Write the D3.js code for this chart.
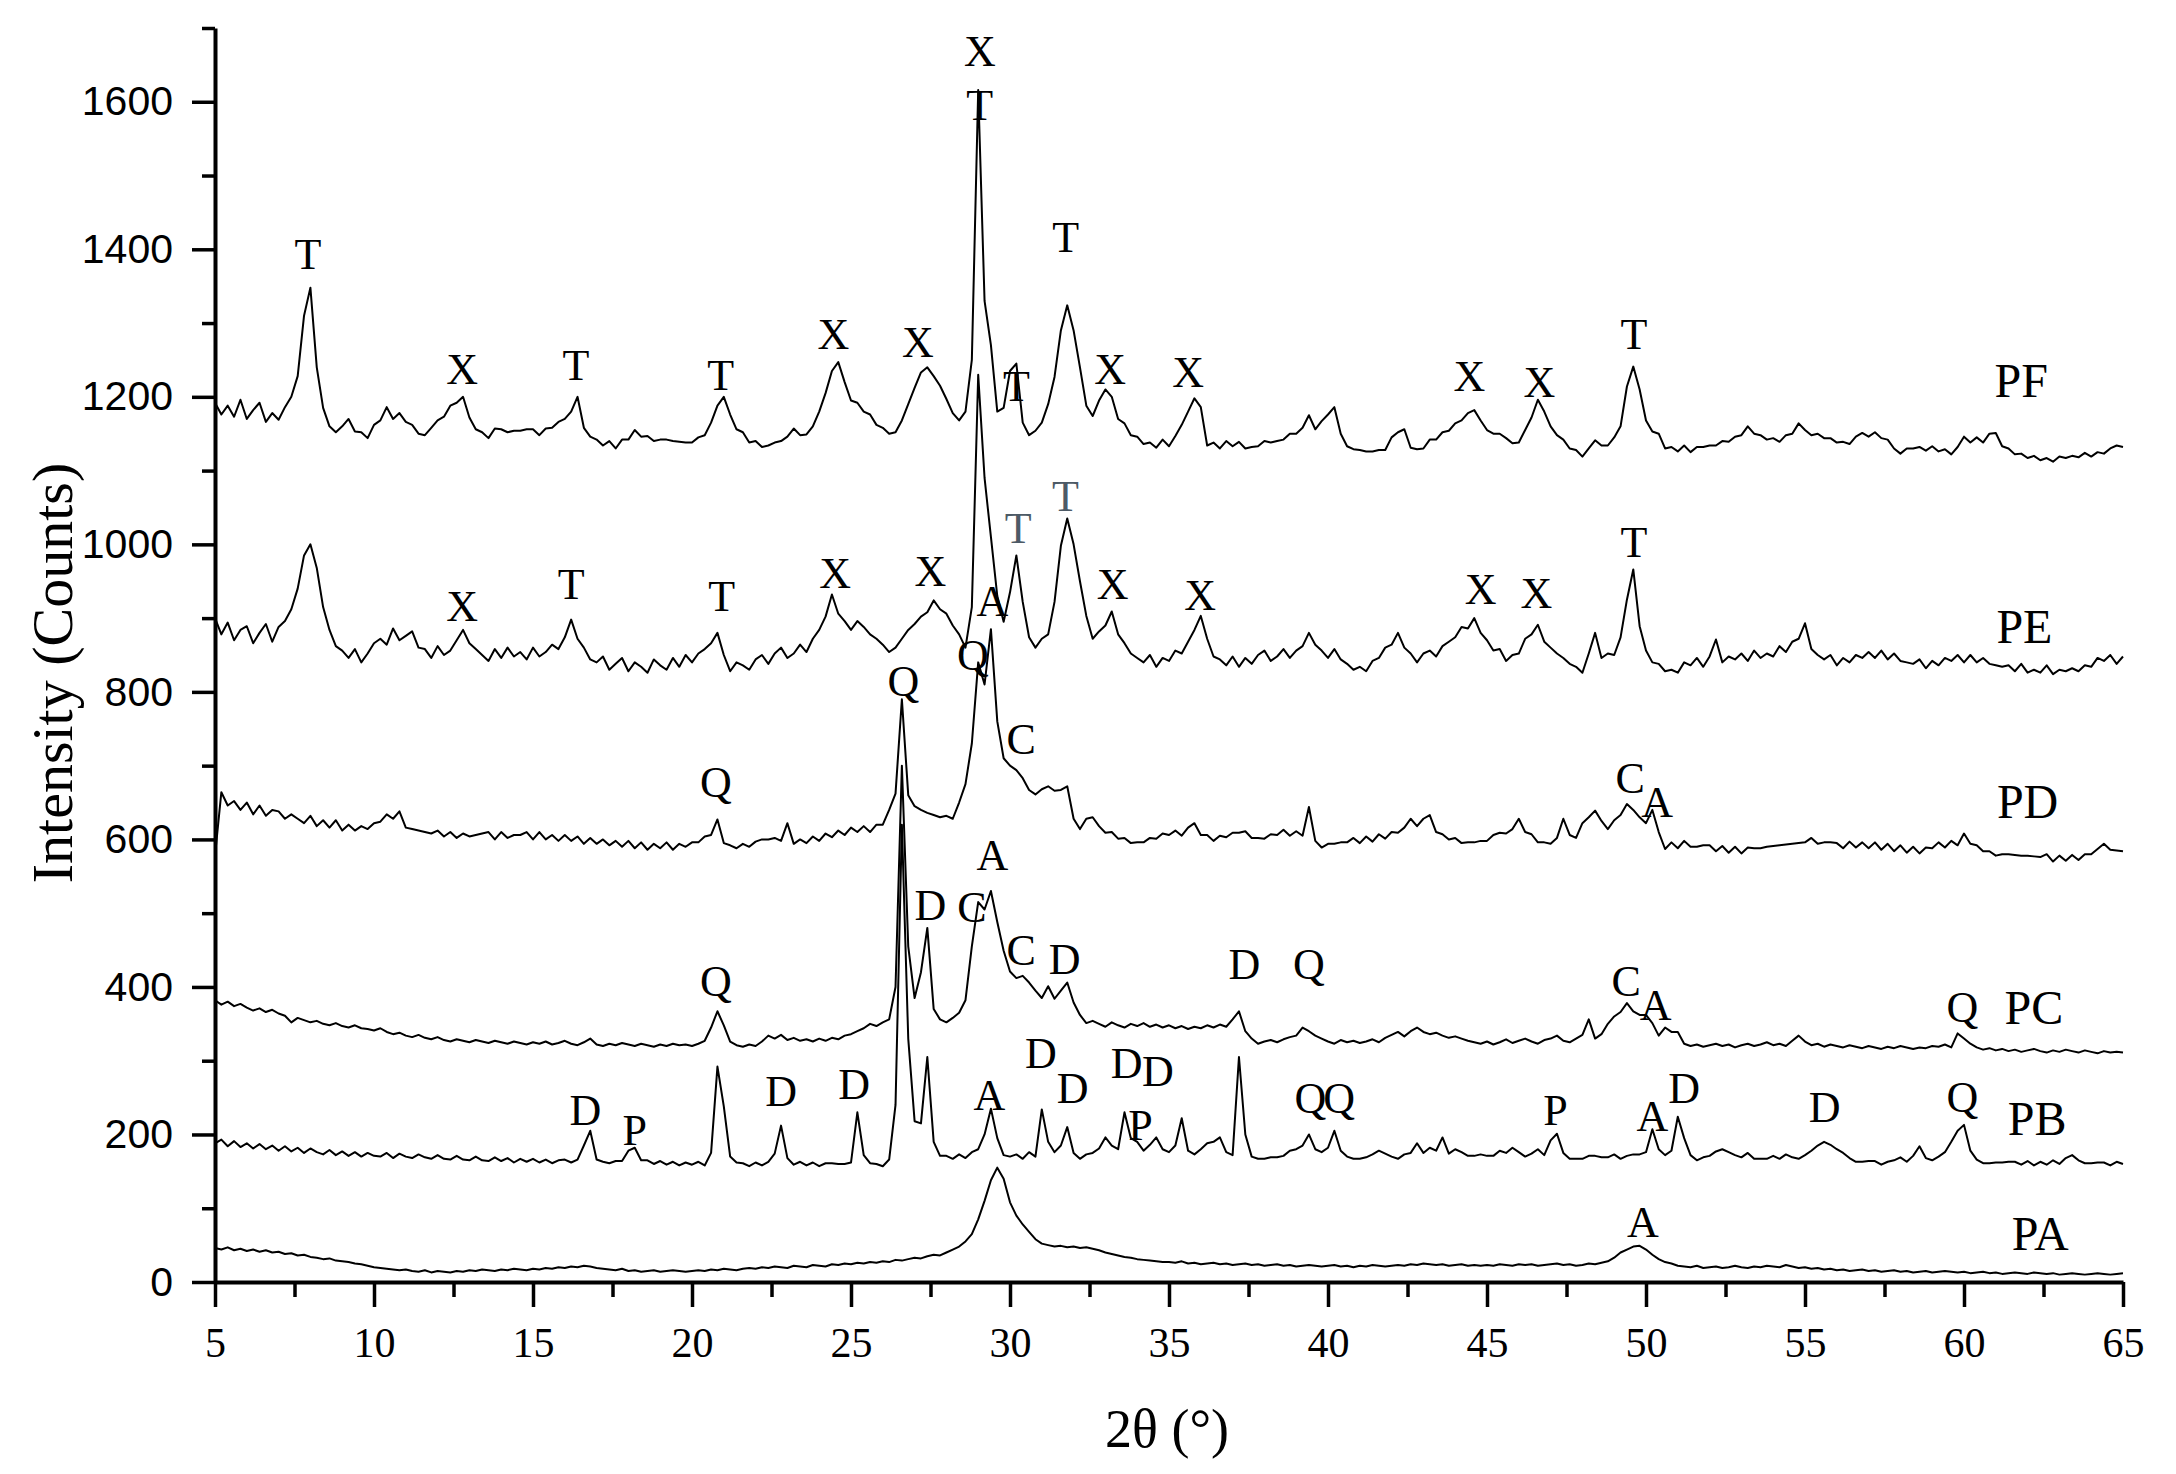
<!DOCTYPE html>
<html><head><meta charset="utf-8">
<script src="https://cdn.jsdelivr.net/npm/d3@7"></script>
<style>html,body{margin:0;padding:0;background:#fff}</style>
</head><body>
<svg id="chart" width="2176" height="1474"></svg>
<script>
// ---- data (2θ grid: each row = 5° block, 0.2° step) ----
const X_START = 5, X_STEP = 0.2, ROW_SPAN = 5;
const xMajorTicks = [5,10,15,20,25,30,35,40,45,50,55,60,65];
const xMinorTicks = [7.5,12.5,17.5,22.5,27.5,32.5,37.5,42.5,47.5,52.5,57.5,62.5];
const yMajorTicks = [0,200,400,600,800,1000,1200,1400,1600];
const yMinorTicks = [100,300,500,700,900,1100,1300,1500,1700];
const seriesNames = ["PA","PB","PC","PD","PE","PF"];

const PA = [
[46,44,47,43,45,42,44,41,43,40,41,38,39,36,37,34,33,31,32,29,28,27,25,24,22],
[20,19,18,17,16,17,15,14,16,13,15,14,13,15,14,16,15,17,16,15,17,16,18,17,16],
[18,17,19,18,20,19,21,20,22,21,19,18,17,16,18,15,16,14,15,16,14,15,16,15,14],
[15,16,15,17,16,18,17,16,18,19,18,20,19,21,20,19,22,21,20,23,22,21,24,23,25],
[24,26,25,27,26,28,27,30,29,31,33,32,35,37,36,40,44,48,55,65,85,110,138,155,140],
[108,90,78,68,58,52,50,48,49,47,48,46,47,45,43,40,38,36,34,33,31,30,29,28,27],
[27,26,28,25,26,24,25,26,24,25,23,24,25,23,24,22,23,24,22,23,21,22,23,22,21],
[22,23,21,22,20,22,21,23,22,21,22,23,22,24,23,25,24,23,24,22,23,24,22,23,22],
[23,22,24,23,22,24,23,24,22,23,24,25,23,24,22,23,25,24,26,28,33,40,44,48,49],
[44,37,31,27,25,22,21,20,22,19,20,21,19,20,22,20,19,21,20,22,21,20,23,21,19],
[20,18,19,17,18,16,17,15,16,17,15,16,14,15,16,14,15,13,14,15,13,14,15,14,13],
[14,12,13,14,12,13,11,12,13,12,11,13,12,11,12,10,11,12,11,10,11,12,11,10,11],
[12]];

const PB = [
[188,193,184,191,183,188,181,187,180,185,178,184,177,182,175,181,176,173,179,172,177,171,176,170,175],
[171,170,175,168,174,170,168,173,169,167,172,167,166,171,166,165,170,165,164,169,164,168,162,167,163],
[167,162,166,161,165,166,162,166,185,205,166,163,161,164,164,178,182,165,165,160,164,159,163,158,162],
[159,163,158,175,292,238,170,162,161,157,162,158,163,174,212,168,159,163,158,162,157,161,161,160,160],
[162,230,172,161,160,157,166,240,620,330,218,215,305,190,171,171,167,173,168,176,180,200,235,195,172],
[170,173,167,176,170,234,190,176,185,210,175,167,173,175,181,196,185,180,230,195,190,178,186,196,180],
[176,185,222,178,173,180,188,190,196,176,172,305,200,170,167,167,169,169,171,178,180,185,200,180,176],
[182,205,178,170,167,167,169,173,178,174,170,167,173,175,188,175,182,178,196,174,180,176,171,171,173],
[171,171,178,175,182,176,170,174,180,172,192,201,175,167,167,167,171,171,169,169,173,167,171,173,173],
[176,207,180,172,178,224,195,172,165,169,171,177,180,176,172,169,175,167,167,167,171,167,173,169,167],
[172,178,185,190,186,180,175,168,163,163,164,164,159,163,165,169,163,171,184,168,165,170,176,190,205],
[213,178,166,161,161,162,162,163,163,159,164,158,163,159,165,160,168,172,165,161,161,162,162,158,163],
[160]];

const PC = [
[382,376,380,374,377,372,368,371,366,369,364,361,352,358,355,352,354,350,348,351,347,345,348,344,343],
[341,344,339,336,338,334,332,335,331,329,332,328,326,329,327,325,328,326,324,327,325,323,326,324,322],
[325,323,326,322,324,327,323,321,325,330,322,320,323,321,324,322,320,323,321,319,322,320,323,321,322],
[320,323,327,345,367,348,326,321,319,322,320,326,334,330,335,328,331,327,329,326,330,327,331,329,334],
[336,340,344,350,347,352,356,400,700,455,385,420,480,370,356,352,358,365,382,455,515,505,530,488,449],
[421,412,415,406,395,385,401,384,395,406,379,362,351,354,350,346,352,348,345,350,347,351,346,349,345],
[348,344,347,343,346,344,348,345,349,346,356,367,340,330,323,326,328,325,329,332,334,345,340,334,330],
[326,323,328,325,327,324,326,329,325,331,335,339,333,340,345,339,336,338,334,331,333,330,327,325,323],
[326,322,325,329,324,327,330,326,323,328,330,334,327,325,330,335,356,330,336,350,360,366,378,367,362],
[362,351,334,345,339,339,323,320,322,319,321,323,320,322,318,321,323,320,322,325,321,323,320,327,334],
[326,321,323,319,322,320,318,321,319,317,320,318,316,319,317,320,318,316,318,317,320,319,322,318,337],
[330,323,318,315,317,314,316,313,315,312,314,316,313,311,314,312,315,313,311,314,312,310,313,311,312],
[311]];

const PD = [
[578,664,646,652,640,650,634,646,632,640,638,628,634,628,622,632,618,626,616,626,612,620,612,618,614],
[622,624,634,628,638,616,614,612,610,608,612,604,610,602,608,604,606,608,610,600,610,602,606,606,610],
[600,610,600,606,598,606,598,604,594,602,594,600,592,598,590,598,588,596,586,594,588,596,586,594,590],
[596,596,604,606,627,595,592,588,594,590,597,600,600,602,598,622,594,600,595,604,598,608,603,612,606],
[616,610,618,610,620,620,640,662,790,660,645,640,636,633,630,632,628,650,675,730,840,810,885,760,710],
[700,694,683,667,661,668,672,666,667,672,628,614,628,630,618,609,610,601,602,595,596,596,602,601,608],
[606,612,605,616,622,606,606,598,605,603,609,609,611,602,602,601,607,606,613,605,611,605,644,598,589],
[594,594,596,596,602,595,604,597,607,601,610,609,616,628,618,628,633,610,607,600,602,595,596,596,598],
[598,606,609,608,614,628,610,607,596,596,594,602,628,606,602,622,630,639,625,614,626,633,648,640,630],
[622,640,610,587,596,588,598,590,590,592,592,584,591,582,590,581,589,588,588,590,591,592,593,594,595],
[596,602,594,596,596,595,588,597,589,596,588,596,586,594,584,592,582,590,581,589,588,596,589,598,592],
[608,594,592,584,584,578,580,580,579,578,578,577,576,580,570,578,571,579,572,580,580,587,594,586,585],
[584]];

const PE = [
[900,878,894,870,884,889,866,880,892,868,888,896,912,940,985,1000,968,915,884,862,856,846,858,840,852],
[866,872,864,886,870,876,882,860,858,846,862,850,856,870,884,866,858,850,842,858,846,860,848,854,844],
[860,848,854,864,858,874,898,872,860,844,840,848,830,838,846,828,840,834,826,844,836,830,846,834,850],
[840,852,858,866,880,850,828,840,836,830,844,850,838,852,860,846,852,864,854,872,884,902,932,906,896],
[884,896,888,878,872,864,854,860,872,884,892,902,908,924,912,906,890,878,860,915,1230,1090,1010,930,895],
[935,985,922,874,860,872,878,922,998,1035,1000,950,903,872,882,890,909,878,866,852,846,840,850,834,846],
[842,856,852,868,884,903,872,848,844,836,848,834,846,838,850,856,842,848,858,846,856,862,880,864,856],
[846,858,844,838,830,834,828,842,846,860,864,880,860,852,840,852,856,848,862,868,874,888,886,900,880],
[870,856,858,842,850,852,872,878,891,868,860,852,846,838,834,826,852,880,846,852,850,874,925,966,889],
[856,840,838,828,830,826,840,836,846,834,848,871,840,848,844,852,842,856,846,852,848,862,854,868,872],
[893,858,850,844,850,836,846,840,850,846,854,846,856,844,852,842,840,838,844,832,842,836,846,842,850],
[840,850,840,846,838,836,834,836,828,838,826,830,826,836,824,830,828,832,828,836,834,846,842,850,838],
[848]];

const PF = [
[1192,1176,1188,1173,1196,1170,1182,1192,1166,1178,1169,1186,1200,1228,1310,1348,1240,1185,1160,1152,1160,1170,1153,1152,1144],
[1162,1168,1186,1170,1178,1166,1162,1150,1148,1158,1168,1173,1188,1192,1200,1172,1156,1152,1144,1157,1156,1152,1154,1154,1156],
[1156,1148,1157,1158,1166,1170,1180,1200,1158,1146,1142,1134,1140,1130,1142,1142,1155,1146,1147,1140,1142,1142,1140,1139,1138],
[1138,1145,1148,1165,1188,1200,1176,1156,1152,1138,1140,1132,1134,1138,1140,1146,1157,1148,1149,1160,1180,1205,1235,1247,1220],
[1195,1192,1180,1176,1162,1158,1150,1152,1168,1190,1212,1233,1240,1228,1215,1197,1178,1168,1180,1250,1616,1330,1270,1180,1185],
[1235,1245,1165,1148,1154,1165,1190,1227,1290,1324,1290,1240,1188,1174,1195,1210,1200,1170,1164,1148,1146,1136,1138,1131,1142],
[1133,1147,1162,1180,1198,1186,1134,1138,1130,1140,1133,1139,1130,1132,1133,1140,1138,1140,1142,1150,1150,1158,1175,1156,1167],
[1176,1186,1150,1133,1129,1128,1126,1126,1128,1128,1145,1152,1156,1131,1129,1130,1142,1142,1152,1154,1164,1168,1178,1182,1168],
[1155,1150,1150,1144,1137,1138,1155,1172,1196,1180,1160,1148,1142,1130,1128,1119,1130,1141,1134,1134,1145,1160,1214,1241,1210],
[1168,1153,1150,1130,1132,1126,1134,1125,1132,1132,1134,1134,1140,1139,1146,1148,1160,1150,1148,1142,1144,1139,1148,1150,1164],
[1155,1148,1150,1144,1144,1138,1139,1136,1146,1151,1146,1152,1144,1142,1130,1123,1130,1130,1132,1127,1133,1126,1129,1122,1132],
[1146,1138,1145,1138,1150,1151,1133,1130,1122,1123,1117,1120,1114,1117,1112,1119,1117,1120,1118,1124,1119,1125,1123,1130,1134],
[1132]];

// peak annotations: [letter, 2θ, counts]
const labelsPF = [["T",7.92,1393],["X",12.77,1237],["T",16.35,1242],["T",20.9,1229],["X",24.45,1284],["X",27.1,1274],["X",29.05,1668],["T",29.05,1595],["T",30.2,1214],["T",31.75,1416],["X",33.15,1237],["X",35.6,1233],["X",44.45,1228],["X",46.65,1220],["T",49.62,1284]];
const labelsPE = [["X",12.77,916],["T",16.2,946],["T",20.93,929],["X",24.5,961],["X",27.5,963],["T",30.26,1022],["T",31.74,1065],["X",33.23,946],["X",35.98,931],["X",44.8,939],["X",46.55,933],["T",49.62,1003]];
const labelsPD = [["Q",20.75,677],["Q",26.65,814],["Q",28.83,850],["A",29.45,922],["C",30.35,735],["C",49.5,682],["A",50.35,650]];
const labelsPC = [["Q",20.75,407],["D",27.5,510],["C",28.8,508],["A",29.45,578],["C",30.35,449],["D",31.72,437],["D",37.37,430],["Q",39.4,430],["C",49.38,408],["A",50.3,375],["Q",59.95,372]];
const labelsPB = [["D",16.65,232],["P",18.2,205],["D",22.8,258],["D",25.1,268],["A",29.35,253],["D",30.97,310],["D",31.97,262],["D",33.67,296],["P",34.1,212],["D",34.65,285],["Q",39.45,249],["Q",40.35,249],["P",47.15,232],["A",50.2,225],["D",51.2,262],["D",55.62,236],["Q",59.95,250]];
const labelsPA = [["A",49.9,80]];
const greyLabels = [["T",30.26],["T",31.74]];
// series name positions [name, 2θ, counts]
const seriesLabelPos = [["PF",61.8,1222],["PE",61.9,889],["PD",62.0,652],["PC",62.2,372],["PB",62.3,221],["PA",62.4,66]];

// ---- drawing ----
const svg = d3.select("#chart");
const x = d3.scaleLinear().domain([5,65]).range([215,2123]);
const y = d3.scaleLinear().domain([0,1700]).range([1282,28]);

function toPoints(rows){
  const pts = [];
  rows.forEach((row,r)=>row.forEach((v,j)=>pts.push([X_START + r*ROW_SPAN + j*X_STEP, v])));
  return pts;
}
const allSeries = {PA,PB,PC,PD,PE,PF};
const line = d3.line().x(d=>x(d[0])).y(d=>y(d[1]));

const gLines = svg.append("g");
seriesNames.forEach(name=>{
  gLines.append("path")
    .datum(toPoints(allSeries[name]))
    .attr("d", line)
    .attr("fill","none")
    .attr("stroke","#000")
    .attr("stroke-width",2)
    .attr("stroke-linejoin","round");
});

// axes
const serif = "'Liberation Serif','Times New Roman',Times,serif";
const sans = "'Liberation Sans',Arial,Helvetica,sans-serif";

const yMinor = d3.axisLeft(y).tickValues(yMinorTicks).tickSize(13).tickSizeOuter(0).tickFormat("");
const yMajor = d3.axisLeft(y).tickValues(yMajorTicks).tickSize(23).tickSizeOuter(0).tickPadding(19).tickFormat(d3.format("d"));
const xMinor = d3.axisBottom(x).tickValues(xMinorTicks).tickSize(15).tickSizeOuter(0).tickFormat("");
const xMajor = d3.axisBottom(x).tickValues(xMajorTicks).tickSize(25).tickSizeOuter(0).tickPadding(20).tickFormat(d3.format("d"));

function styleAxis(g, font, size){
  g.selectAll("path.domain").attr("stroke","#000").attr("stroke-width",4);
  g.selectAll(".tick line").attr("stroke","#000").attr("stroke-width",3.5);
  g.selectAll(".tick text").attr("fill","#000").style("font-family",font).style("font-size",size+"px");
}
const gy1 = svg.append("g").attr("transform","translate(215,0)").call(yMinor); styleAxis(gy1, sans, 40);
const gy2 = svg.append("g").attr("transform","translate(215,0)").call(yMajor); styleAxis(gy2, sans, 41);
const gx1 = svg.append("g").attr("transform","translate(0,1282)").call(xMinor); styleAxis(gx1, serif, 42);
const gx2 = svg.append("g").attr("transform","translate(0,1282)").call(xMajor); styleAxis(gx2, serif, 42);
gy1.select("path.domain").remove();
gx1.select("path.domain").remove();

// axis titles
svg.append("text").attr("transform","translate(72,673) rotate(-90)")
  .attr("text-anchor","middle").style("font-family",serif).style("font-size","58px").attr("fill","#000")
  .text("Intensity (Counts)");
svg.append("text").attr("x",1167).attr("y",1447)
  .attr("text-anchor","middle").style("font-family",serif).style("font-size","54px").attr("fill","#000")
  .text("2θ (°)");

// peak annotations
const gLab = svg.append("g").style("font-family",serif);
[labelsPF,labelsPE,labelsPD,labelsPC,labelsPB,labelsPA].forEach(list=>{
  list.forEach(([t,px,py])=>{
    const grey = greyLabels.some(g=>g[0]===t && g[1]===px);
    gLab.append("text").attr("x",x(px)).attr("y",y(py))
      .attr("text-anchor","middle").attr("dominant-baseline","central")
      .style("font-size","44px").attr("fill", grey ? "#4d5a66" : "#000").text(t);
  });
});
seriesLabelPos.forEach(([n,px,py])=>{
  gLab.append("text").attr("x",x(px)).attr("y",y(py))
    .attr("text-anchor","middle").attr("dominant-baseline","central")
    .style("font-size","48px").attr("fill","#000").text(n);
});
</script>
</body></html>
